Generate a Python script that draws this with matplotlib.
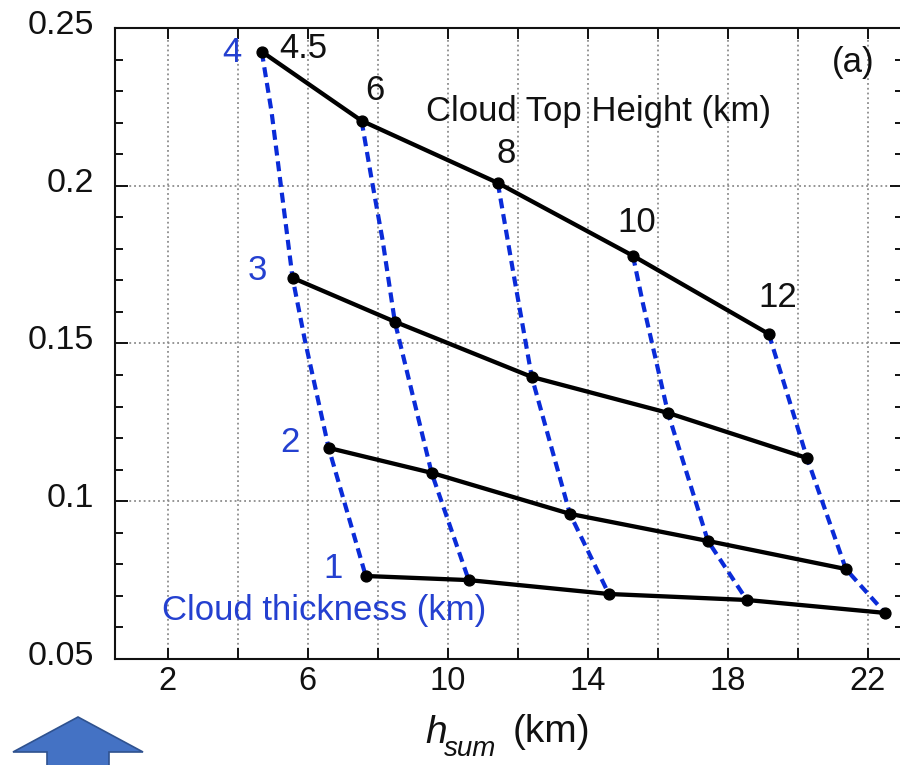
#!/usr/bin/env python
"""h_sum vs. ratio diagram: cloud top height / cloud thickness grid (panel a)
"""

import numpy as np
import matplotlib
matplotlib.use('Agg')
import matplotlib.pyplot as plt
from matplotlib.ticker import MultipleLocator
from matplotlib.transforms import ScaledTranslation
from matplotlib.patches import Polygon

plt.rcParams['font.family'] = ['Liberation Sans', 'DejaVu Sans']

# solid lines: constant cloud thickness (km), points at CTH 4.5, 6, 8, 10, 12 km
thick4_x = [4.69, 7.54, 11.43, 15.29, 19.17]
thick4_y = [0.2425, 0.2206, 0.2009, 0.1778, 0.1530]
thick3_x = [5.57, 8.49, 12.40, 16.29, 20.26]
thick3_y = [0.1708, 0.1569, 0.1394, 0.1280, 0.1137]
thick2_x = [6.60, 9.54, 13.49, 17.43, 21.37]
thick2_y = [0.1169, 0.1090, 0.0960, 0.0874, 0.0785]
thick1_x = [7.66, 10.60, 14.60, 18.54, 22.49]
thick1_y = [0.0763, 0.0750, 0.0706, 0.0687, 0.0646]

# dashed lines: constant cloud top height, thickness going 4 -> 1 km
cth45_x = [4.69, 4.97, 5.57, 5.92, 6.60, 7.66]
cth45_y = [0.2425, 0.2234, 0.1708, 0.1511, 0.1169, 0.0763]
cth6_x = [7.54, 7.83, 8.14, 8.49, 9.54, 10.60]
cth6_y = [0.2206, 0.2019, 0.1828, 0.1569, 0.1090, 0.0750]
cth8_x = [11.43, 11.86, 12.40, 13.49, 14.60]
cth8_y = [0.2009, 0.1733, 0.1394, 0.0960, 0.0706]
cth10_x = [15.29, 15.57, 16.29, 17.43, 18.54]
cth10_y = [0.1778, 0.1629, 0.1280, 0.0874, 0.0687]
cth12_x = [19.17, 20.26, 21.37, 22.49]
cth12_y = [0.1530, 0.1137, 0.0785, 0.0646]

cth_labels = ['4.5', '6', '8', '10', '12']
thick_labels = ['4', '3', '2', '1']
xtick_major = [2, 6, 10, 14, 18, 22]
xtick_minor = [4, 8, 12, 16, 20]
ytick_vals = [0.05, 0.1, 0.15, 0.2, 0.25]
ytick_labels = ['0.05', '0.1', '0.15', '0.2', '0.25']

blueLine = '#0a2bd8'
blueText = '#2440d0'
ink = '#111111'

fig = plt.figure(figsize=(9, 7.65), dpi=100)
ax = fig.add_axes([0.1278, 0.1386, 0.8755, 0.8248])

####################
### DASHED LINES ###
####################
for xs, ys in [(cth45_x, cth45_y), (cth6_x, cth6_y), (cth8_x, cth8_y),
               (cth10_x, cth10_y), (cth12_x, cth12_y)]:
    ax.plot(xs, ys, color=blueLine, linewidth=3.0, dashes=(2.4, 1.4),
            zorder=3)

###################
### SOLID LINES ###
###################
for xs, ys in [(thick4_x, thick4_y), (thick3_x, thick3_y),
               (thick2_x, thick2_y), (thick1_x, thick1_y)]:
    ax.plot(xs, ys, '-o', color='black', linewidth=3.1, markersize=7.8,
            zorder=4)

##############
### LABELS ###
##############
fs = 25
cth_pos = [(5.89, 0.2406), (7.91, 0.2272), (11.66, 0.2073),
           (15.40, 0.1854), (19.43, 0.1616)]
for lab, (tx, ty) in zip(cth_labels, cth_pos):
    ax.text(tx, ty, lab, ha='center', va='baseline', fontsize=fs,
            color=ink, zorder=5)

thick_pos = [(3.83, 0.2393), (4.57, 0.1702), (5.49, 0.1156), (6.74, 0.0757)]
for lab, (tx, ty) in zip(thick_labels, thick_pos):
    ax.text(tx, ty, lab, ha='center', va='baseline', fontsize=fs,
            color=blueText, zorder=5)

ax.text(14.31, 0.2206, 'Cloud Top Height (km)', ha='center', va='baseline',
        fontsize=fs, color=ink, zorder=5)
ax.text(6.46, 0.0624, 'Cloud thickness (km)', ha='center', va='baseline',
        fontsize=fs, color=blueText, zorder=5)
ax.text(21.57, 0.2361, '(a)', ha='center', va='baseline', fontsize=fs,
        color=ink, zorder=5)

#######################
### PLOT FORMATTING ###
#######################
ax.set_xlim(0.5, 23.0)
ax.set_ylim(0.05, 0.25)
ax.set_xticks(xtick_major)
ax.set_xticks(xtick_minor, minor=True)
ax.set_yticks(ytick_vals)
ax.set_yticklabels(ytick_labels)
ax.yaxis.set_minor_locator(MultipleLocator(0.01))

ax.tick_params(which='both', direction='in', top=True, right=True,
               colors=ink, width=1.4)
ax.tick_params(axis='x', which='both', length=8, labelsize=23.5, pad=5)
ax.tick_params(axis='y', which='major', length=9.5, labelsize=24.5, pad=15)
ax.tick_params(axis='y', which='minor', length=5.8)

# y tick labels sit a little above their ticks in the original
for lab in ax.get_yticklabels():
    lab.set_transform(lab.get_transform()
                      + ScaledTranslation(0, 6 / 100., fig.dpi_scale_trans))

ax.grid(True, axis='x', which='both', color='#8c8c8c', linestyle=':',
        linewidth=1.3)
ax.grid(True, axis='y', which='major', color='#8c8c8c', linestyle=':',
        linewidth=1.3)
ax.set_axisbelow(True)
for sp in ax.spines.values():
    sp.set_linewidth(1.5)
    sp.set_color(ink)

# x label: italic h with a deep italic "sum" subscript, then (km)
W, H = 900., 765.
fig.text(425 / W, 1 - 743 / H, 'h', style='italic', fontsize=28,
         color=ink, ha='left', va='baseline')
fig.text(444 / W, 1 - 756 / H, 'sum', style='italic', fontsize=20,
         color=ink, ha='left', va='baseline')
fig.text(513 / W, 1 - 742 / H, '(km)', fontsize=28, color=ink,
         ha='left', va='baseline')

# blue block arrow in the lower left corner
arrow_px = [(78, 717), (143, 752), (109, 752), (109, 780),
            (47, 780), (47, 752), (13, 752)]
arrow = Polygon([(px / W, 1 - py / H) for px, py in arrow_px],
                closed=True, transform=fig.transFigure,
                facecolor='#4472C4', edgecolor='#2F528F', linewidth=1.2)
fig.patches.append(arrow)

fig.savefig('out.png', dpi=100)
